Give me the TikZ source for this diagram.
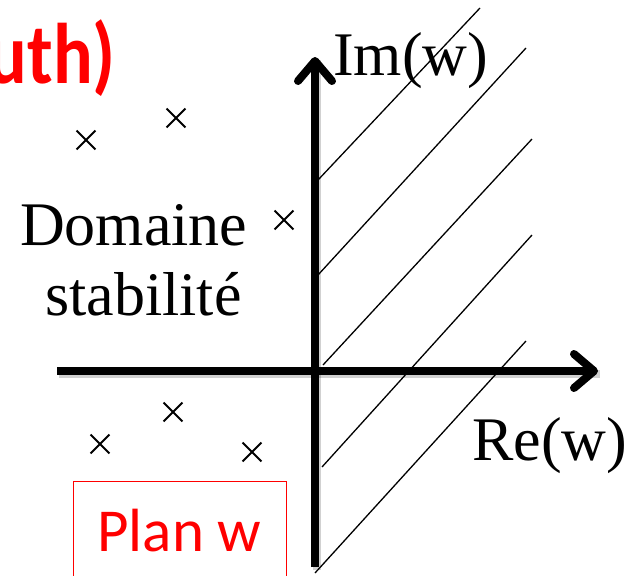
\documentclass[tikz,border=0pt]{standalone}
\usepackage{fontspec}
\setmainfont{Liberation Serif}
\newfontfamily\calibri{Carlito}
\usetikzlibrary{arrows.meta,shapes.misc}
\tikzset{
  axis/.style={line width=8pt,-{Straight Barb[length=20pt,width=34pt,round]}},
  axshadow/.style={line width=8pt,black,opacity=0.18},
  hatch/.style={line width=1.3pt},
  polemark/.style={cross out,draw,line width=1.8pt,minimum size=17pt,inner sep=0pt},
  serif/.style={inner sep=0pt,anchor=base west,font=\fontsize{62}{70}\selectfont},
}
\begin{document}
\begin{tikzpicture}[x=1pt,y=-1pt]
\clip (0,0) rectangle (625,576);
\useasboundingbox (0,0) rectangle (625,576);
% title fragment
\node[inner sep=0pt,anchor=base east,text=red,font=\calibri\bfseries\fontsize{86}{90}\selectfont] (title) at (116,83) {\scalebox{0.86}[1]{uth)}};
% hatching
\coordinate (h1a) at (318,180); \coordinate (h1b) at (480,8);
\coordinate (h2a) at (318,275); \coordinate (h2b) at (526,48);
\coordinate (h3a) at (323,365); \coordinate (h3b) at (532,139);
\coordinate (h4a) at (322,467); \coordinate (h4b) at (532,235);
\coordinate (h5a) at (315,573); \coordinate (h5b) at (526,341);
\foreach \i in {1,...,5} \draw[hatch] (h\i a) -- (h\i b);
% axes
\coordinate (vb) at (315,567); \coordinate (vt) at (315,57);
\coordinate (hl) at (57,371); \coordinate (hr) at (598,371);
\draw[axshadow] ([shift={(2,3)}]vb) -- ([shift={(2,3)}]vt);
\draw[axshadow] ([shift={(2,3)}]hl) -- ([shift={(2,3)}]hr);
\draw[axis] (vb) -- (vt);
\draw[axis] (hl) -- (hr);
% labels
\node[serif] (im) at (333,75) {Im(w)};
\node[serif] (re) at (472,460) {Re(w)};
\node[serif] (dom) at (20,245) {Domaine};
\node[serif] (stab) at (45,315) {stabilité};
% poles
\node[polemark] (p1) at (86,140) {};
\node[polemark] (p2) at (176,118) {};
\node[polemark] (p3) at (284,220) {};
\node[polemark] (p4) at (100,444) {};
\node[polemark] (p5) at (173,412) {};
\node[polemark] (p6) at (252,452) {};
% plan box
\node[draw=red,line width=1pt,text=red,minimum width=213pt,minimum height=100pt,inner sep=0pt,
      font=\calibri\fontsize{61}{70}\selectfont] (plan) at (179.5,531) {Plan w};
\end{tikzpicture}
\end{document}
